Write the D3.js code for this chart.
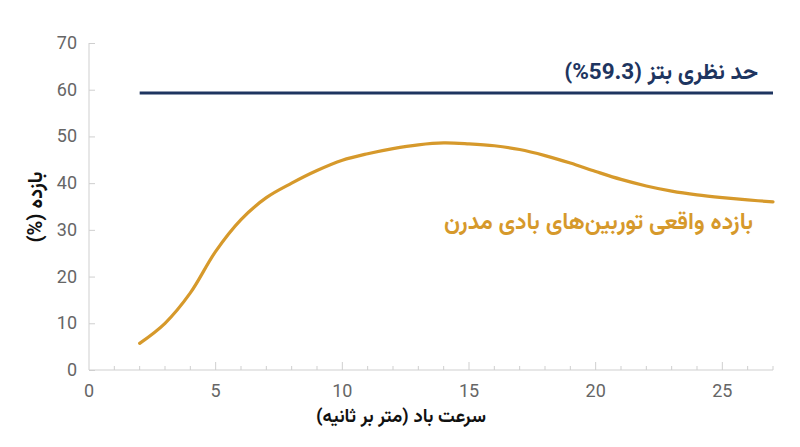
<!DOCTYPE html>
<html>
<head>
<meta charset="utf-8">
<script src="https://cdn.jsdelivr.net/npm/d3@7"></script>
<style>
  body { margin: 0; background: #fff; }
  svg text { font-family: Roboto, "DejaVu Sans", sans-serif; }
  .fa { font-family: Vazirmatn, "DejaVu Sans", sans-serif; font-weight: bold; }
</style>
</head>
<body>
<svg id="chart" width="800" height="447"></svg>
<script>
// wind speed (m/s) and real turbine efficiency (%)
var windSpeed = [2, 3, 4, 5, 6, 7, 8, 9, 10, 11, 12, 13, 14, 15, 16, 17, 18, 19, 20, 21, 22, 23, 24, 25, 26, 27];
var efficiency = [5.7, 10, 16.5, 25.4, 32.2, 36.9, 40, 42.7, 44.9, 46.3, 47.4, 48.2, 48.6, 48.4, 48.0, 47.2, 45.9, 44.3, 42.5, 40.8, 39.4, 38.3, 37.5, 36.9, 36.4, 36.0];
var betzLimit = 59.3;
var betzRange = [2, 27];
var xTicks = [0, 5, 10, 15, 20, 25];
var yTicks = [0, 10, 20, 30, 40, 50, 60, 70];

var labelBetz = "حد نظری بتز (59.3%)";
var labelReal = "بازده واقعی توربین‌های بادی مدرن";
var labelX = "سرعت باد (متر بر ثانیه)";
var labelY = "بازده (%)";

var svg = d3.select("#chart");
var x = d3.scaleLinear().domain([0, 27]).range([89, 773]);
var y = d3.scaleLinear().domain([0, 70]).range([370, 43]);

var axisColor = "#cfcfcf";
var tickText = "#666";

// y axis - ticks point inward
var yAxis = svg.append("g")
  .attr("transform", "translate(" + x(0) + ",0)")
  .call(d3.axisRight(y).tickValues(yTicks).tickSize(6).tickFormat(""));
yAxis.select(".domain").attr("stroke", axisColor).attr("d", "M0," + y(70) + "V" + y(0));
yAxis.selectAll(".tick line").attr("stroke", axisColor);

svg.append("g").selectAll("text")
  .data(yTicks)
  .enter()
  .append("text")
  .attr("x", 77)
  .attr("y", function(d) { return y(d) + 6; })
  .attr("text-anchor", "end")
  .attr("font-size", 18)
  .attr("fill", tickText)
  .text(function(d) { return d; });

// x axis: minor every 1, major every 5, inward
var xAxisG = svg.append("g").attr("transform", "translate(0," + y(0) + ")");
xAxisG.append("path")
  .attr("d", "M" + x(0) + ",0H" + x(27))
  .attr("stroke", axisColor)
  .attr("fill", "none");
xAxisG.selectAll("line")
  .data(d3.range(1, 28))
  .enter()
  .append("line")
  .attr("x1", function(d) { return x(d); })
  .attr("x2", function(d) { return x(d); })
  .attr("y1", 0)
  .attr("y2", function(d) { return d % 5 === 0 ? -8 : -4; })
  .attr("stroke", axisColor);
xAxisG.selectAll("text")
  .data(xTicks)
  .enter()
  .append("text")
  .attr("x", function(d) { return x(d); })
  .attr("y", 27)
  .attr("text-anchor", "middle")
  .attr("font-size", 18)
  .attr("fill", tickText)
  .text(function(d) { return d; });

// Betz limit
svg.append("line")
  .attr("x1", x(betzRange[0]))
  .attr("x2", x(betzRange[1]))
  .attr("y1", y(betzLimit))
  .attr("y2", y(betzLimit))
  .attr("stroke", "#1e3560")
  .attr("stroke-width", 3);

// real efficiency curve
var line = d3.line()
  .x(function(d, i) { return x(windSpeed[i]); })
  .y(function(d) { return y(d); })
  .curve(d3.curveCatmullRom);
svg.append("path")
  .datum(efficiency)
  .attr("d", line)
  .attr("fill", "none")
  .attr("stroke", "#d6992b")
  .attr("stroke-width", 3.2)
  .attr("stroke-linecap", "round");

// labels
svg.append("text")
  .attr("class", "fa")
  .attr("direction", "rtl")
  .attr("x", 758)
  .attr("y", 79)
  .attr("font-size", 22.5)
  .attr("fill", "#1e3560")
  .text(labelBetz);

svg.append("text")
  .attr("class", "fa")
  .attr("direction", "rtl")
  .attr("x", 753)
  .attr("y", 229)
  .attr("font-size", 23)
  .attr("fill", "#d6992b")
  .text(labelReal);

svg.append("text")
  .attr("class", "fa")
  .attr("direction", "rtl")
  .attr("text-anchor", "middle")
  .attr("x", 401)
  .attr("y", 422)
  .attr("font-size", 18.5)
  .attr("fill", "#111")
  .text(labelX);

svg.append("text")
  .attr("class", "fa")
  .attr("direction", "rtl")
  .attr("text-anchor", "middle")
  .attr("transform", "translate(42,207) rotate(-90)")
  .attr("font-size", 20)
  .attr("fill", "#111")
  .text(labelY);
</script>
</body>
</html>
